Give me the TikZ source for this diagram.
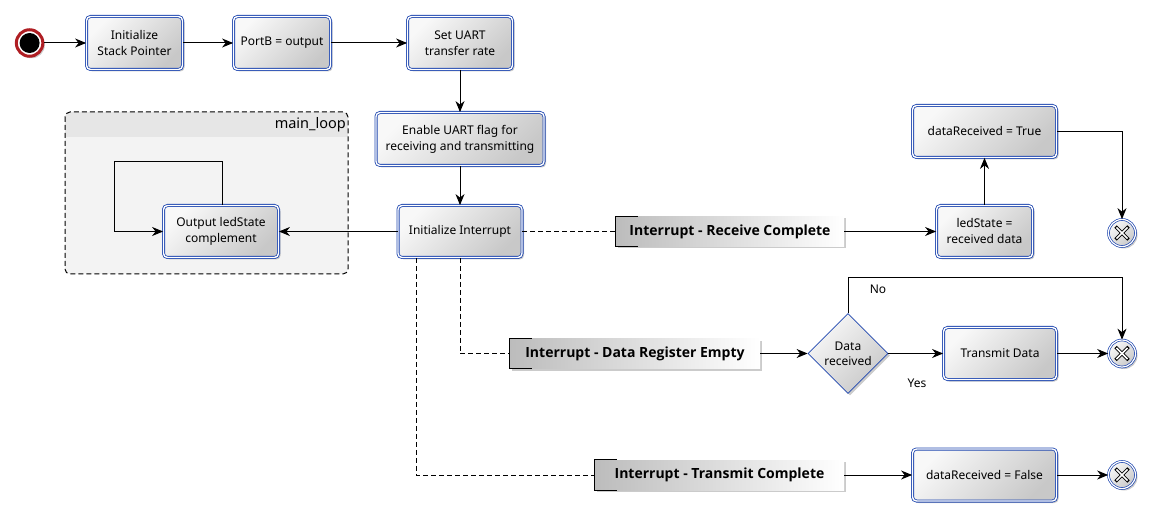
\documentclass[tikz,border=0pt]{standalone}
\usepackage{fontspec}
\setmainfont{Noto Sans}
\newfontfamily\lblfont{Open Sans}
\usetikzlibrary{arrows.meta,shapes.geometric,shadows}
\definecolor{bpblue}{RGB}{30,70,175}
\definecolor{startred}{RGB}{175,30,35}
\definecolor{gtop}{RGB}{248,248,248}
\definecolor{gbot}{RGB}{200,200,200}
\definecolor{lgl}{RGB}{188,188,188}
\definecolor{grpbody}{RGB}{243,243,243}
\definecolor{grphead}{RGB}{230,230,230}
\begin{document}
\begin{tikzpicture}[x=1pt,y=-1pt,
  every node/.style={font=\fontsize{12}{16}\selectfont},
  shad/.style={drop shadow={shadow xshift=2pt,shadow yshift=-2pt,fill=black!45,opacity=0.45}},
  act/.style={rectangle, rounded corners=4pt, draw=bpblue, line width=0.8pt,
    double=white, double distance=1.4pt, top color=gtop, bottom color=gbot,
    shading angle=45, align=center, inner sep=2pt, shad},
  lbl/.style={rectangle, minimum height=30pt, left color=lgl, right color=white,
    inner sep=0pt, font=\lblfont\bfseries\fontsize{14}{17}\selectfont, shad},
  dia/.style={diamond, aspect=1, draw=bpblue, line width=0.8pt, top color=gtop,
    bottom color=gbot, shading angle=45, inner sep=0pt, minimum width=80pt,
    minimum height=80pt, align=center, font=\fontsize{12}{15}\selectfont, shad},
  endc/.style={circle, draw=bpblue, line width=0.7pt, double=white,
    double distance=1.2pt, minimum size=27pt, inner sep=0pt, top color=gtop,
    bottom color=gbot, shading angle=45, shad,
    path picture={
      \draw[line width=3.4pt,black] (path picture bounding box.center) ++(-6.5,-6.5) -- ++(13,13) ++(0,-13) -- ++(-13,13);
      \draw[line width=1.6pt,white] (path picture bounding box.center) ++(-5.6,-5.6) -- ++(11.2,11.2) ++(0,-11.2) -- ++(-11.2,11.2);
    }},
  arr/.style={draw=black, line width=1pt, -{Stealth[length=11pt,width=9pt,inset=3.5pt]}},
  dashln/.style={draw=black, line width=1pt, dash pattern=on 5pt off 3pt},
]
\path[use as bounding box] (0,0) rectangle (1153,518);

% group main_loop
\fill[grpbody, rounded corners=5pt] (65,112) rectangle (348,274);
\begin{scope}
  \clip[rounded corners=5pt] (65,112) rectangle (348,274);
  \fill[grphead] (65,112) rectangle (348,137);
\end{scope}
\draw[line width=1pt, dash pattern=on 5pt off 3pt, rounded corners=5pt] (65,112) rectangle (348,274);
\node[anchor=east, font=\fontsize{14.5}{17}\selectfont, inner sep=0pt] (grouptitle) at (346,124.5) {main\_loop};

% start
\node[circle, draw=startred, line width=3pt, fill=white, minimum size=26.5pt, inner sep=0pt, shad] (start) at (29.6,43) {};
\node[circle, fill=black, minimum size=20pt, inner sep=0pt] (startdot) at (start.center) {};

% activities
\node[act, minimum width=96pt, minimum height=53pt] (b1) at (134.5,43) {Initialize\\Stack Pointer};
\node[act, minimum width=97pt, minimum height=53pt] (b2) at (282,43) {PortB = output};
\node[act, minimum width=105pt, minimum height=53pt] (b3) at (460,43) {Set UART\\transfer rate};
\node[act, minimum width=168pt, minimum height=53pt] (b4) at (460,139) {Enable UART flag for\\receiving and transmitting};
\node[act, minimum width=124pt, minimum height=52pt] (b5) at (460,231.5) {Initialize Interrupt};
\node[act, minimum width=115pt, minimum height=52pt] (out) at (221,231.5) {Output ledState\\complement};
\node[act, minimum width=96pt, minimum height=52pt] (led) at (984.5,231.5) {ledState =\\received data};
\node[act, minimum width=144pt, minimum height=52pt] (dtrue) at (984.5,131.5) {dataReceived = True};
\node[act, minimum width=113pt, minimum height=52pt] (tx) at (1000,353.5) {Transmit Data};
\node[act, minimum width=144pt, minimum height=52pt] (dfalse) at (984.5,475) {dataReceived = False};

% interrupt labels
\node[lbl, minimum width=228pt] (lab1) at (730,231.5) {Interrupt - Receive Complete};
\node[lbl, minimum width=250pt] (lab2) at (635,353.5) {Interrupt - Data Register Empty};
\node[lbl, minimum width=249pt] (lab3) at (719.5,475) {Interrupt - Transmit Complete};
\foreach \l in {lab1,lab2,lab3}{
  \draw[line width=1pt] ([xshift=22pt]\l.north west) -- (\l.north west) -- (\l.south west) -- ([xshift=22pt]\l.south west);
}

% decision
\node[dia] (dia) at (848,353.5) {Data\\received};

% ends
\node[endc] (e1) at (1122,233) {};
\node[endc] (e2) at (1122,353.5) {};
\node[endc] (e3) at (1122,475) {};

% connector labels
\node (no) at (878,289) {No};
\node (yes) at (917,383) {Yes};

% connectors
\draw[arr] (start) -- (b1);
\draw[arr] (b1) -- (b2);
\draw[arr] (b2) -- (b3);
\draw[arr] (b3) -- (b4);
\draw[arr] (b4) -- (b5);
\draw[arr] (b5) -- (out);
\coordinate (loopc) at (114,162);
\draw[arr] ([xshift=1pt]out.north) |- (loopc) |- (out.west);

\draw[dashln] (b5) -- (lab1);
\draw[dashln] (b5.south) |- (lab2);
\draw[dashln] ([xshift=18.5pt]b5.south west) |- (lab3);

\draw[arr] (lab1) -- (led);
\draw[arr] (led) -- (dtrue);
\draw[arr] (dtrue.east) -| (e1.north);

\draw[arr] (lab2) -- (dia);
\draw[arr] (dia) -- (tx);
\draw[arr] (tx) -- (e2);
\coordinate (notop) at (848,278);
\draw[arr] (dia.north) -- (notop) -| (e2.north);

\draw[arr] (lab3) -- (dfalse);
\draw[arr] (dfalse) -- (e3);
\end{tikzpicture}
\end{document}
